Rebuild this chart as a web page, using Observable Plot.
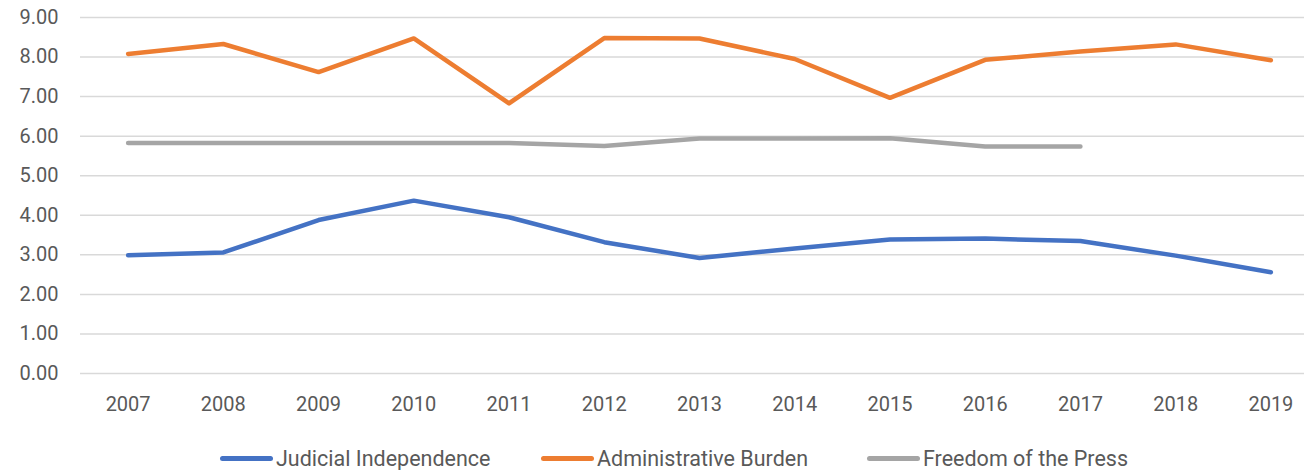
<!DOCTYPE html>
<html>
<head>
<meta charset="utf-8">
<script src="https://cdn.jsdelivr.net/npm/d3@7"></script>
<script src="https://cdn.jsdelivr.net/npm/@observablehq/plot@0.6"></script>
<style>
  html, body { margin: 0; padding: 0; background: #fff; overflow: hidden; }
  #wrap { position: relative; width: 1304px; height: 470px; font-family: Roboto, "Liberation Sans", sans-serif; }
  #legend { position: absolute; left: 0; top: 440px; width: 1304px; height: 36px; }
  .item { position: absolute; top: 0; height: 36px; display: flex; align-items: center; font-size: 21.5px; color: #595959; white-space: nowrap; }
  .sw { width: 53px; height: 5px; border-radius: 3px; margin-right: 3px; }
</style>
</head>
<body>
<div id="wrap"><div id="chart"></div><div id="legend"></div></div>
<script>
const years = [2007, 2008, 2009, 2010, 2011, 2012, 2013, 2014, 2015, 2016, 2017, 2018, 2019];
const judicialIndependence = [2.99, 3.06, 3.88, 4.37, 3.95, 3.32, 2.92, 3.16, 3.39, 3.41, 3.35, 2.98, 2.56];
const administrativeBurden = [8.08, 8.33, 7.62, 8.47, 6.83, 8.48, 8.47, 7.95, 6.97, 7.93, 8.14, 8.32, 7.92];
const freedomOfThePress = [5.83, 5.83, 5.83, 5.83, 5.83, 5.75, 5.94, 5.94, 5.95, 5.74, 5.74];
const seriesNames = ["Judicial Independence", "Administrative Burden", "Freedom of the Press"];
const seriesColors = ["#4472C4", "#ED7D31", "#A5A5A5"];
const yTicks = [0, 1, 2, 3, 4, 5, 6, 7, 8, 9];

const seriesValues = [judicialIndependence, administrativeBurden, freedomOfThePress];
const data = [];
seriesNames.forEach((name, i) => {
  seriesValues[i].forEach((v, j) => data.push({series: name, year: years[j], value: v}));
});

const chart = Plot.plot({
  width: 1304,
  height: 430,
  marginLeft: 80,
  marginRight: 0,
  marginTop: 17,
  marginBottom: 57,
  style: { fontFamily: "Roboto, 'Liberation Sans', sans-serif", fontSize: "20px", color: "#595959", background: "#fff" },
  x: { domain: [2006.5, 2019.5], range: [80, 1318] },
  y: { domain: [0, 9] },
  color: { domain: seriesNames, range: seriesColors },
  marks: [
    Plot.ruleY(yTicks, { stroke: "#D9D9D9", strokeWidth: 1.5 }),
    Plot.axisY({ ticks: yTicks, tickFormat: d3.format(".2f"), tickSize: 0, tickPadding: 22, label: null, fontSize: 20 }),
    Plot.axisX({ ticks: years, tickFormat: d => String(d), tickSize: 0, tickPadding: 23, label: null, fontSize: 20 }),
    Plot.line(data, { x: "year", y: "value", z: "series", stroke: "series", strokeWidth: 4.5, strokeLinecap: "round", strokeLinejoin: "round" })
  ]
});
document.getElementById("chart").appendChild(chart);

const legendLefts = [220, 541, 867];
const legend = document.getElementById("legend");
seriesNames.forEach((name, i) => {
  const item = document.createElement("div");
  item.className = "item";
  item.style.left = legendLefts[i] + "px";
  const sw = document.createElement("span");
  sw.className = "sw";
  sw.style.background = seriesColors[i];
  const t = document.createElement("span");
  t.textContent = name;
  item.appendChild(sw);
  item.appendChild(t);
  legend.appendChild(item);
});
</script>
</body>
</html>
